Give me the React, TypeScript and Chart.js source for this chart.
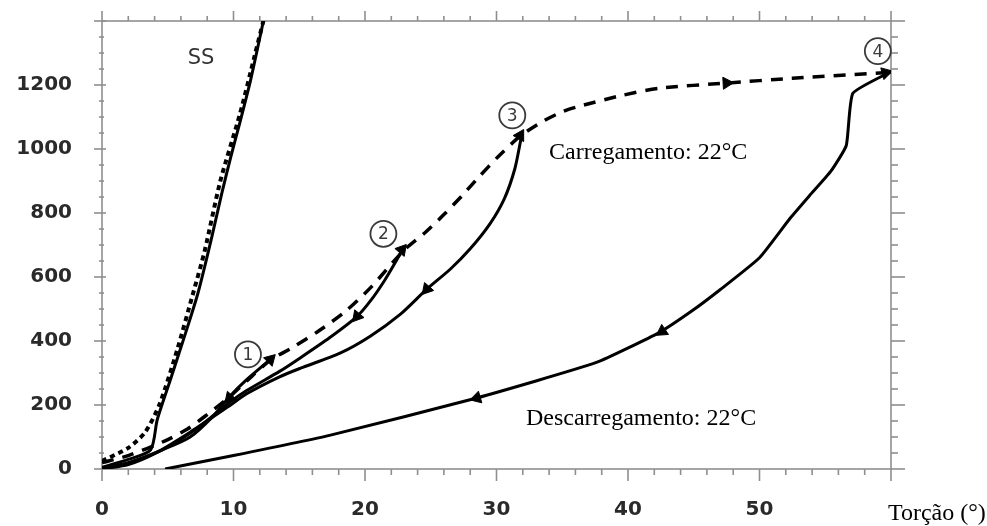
import React, { useEffect, useRef } from "react";
import { Chart, registerables } from "chart.js";

Chart.register(...registerables);

// ---- data (torsion angle in degrees, torque) ----
const ssSolidX = [0, 2, 3.7, 4.2, 5.2, 6.2, 7.3, 8.3, 9.1, 9.8, 10.5, 11.3, 12.3];
const ssSolidY = [5, 30, 60, 154, 279, 405, 550, 716, 860, 976, 1085, 1215, 1405];

const ssDashX = [0, 2, 3.3, 4.4, 5.7, 6.9, 7.8, 9.0, 10.5, 11.6, 12.3];
const ssDashY = [25, 66, 116, 205, 370, 545, 680, 900, 1111, 1290, 1405];

const loadX = [0, 2, 4.8, 6.5, 8, 9.6, 11, 12.8, 14.5, 16.5, 18.5, 20.5, 22.9, 24.6, 26, 27.4, 28.6, 30.1, 31.8, 33.5, 35.1, 36.6, 39.6, 42.4, 47.5, 52.5, 60];
const loadY = [20, 42, 88, 125, 170, 222, 275, 340, 380, 432, 492, 570, 681, 740, 795, 855, 910, 975, 1040, 1086, 1118, 1137, 1168, 1190, 1206, 1221, 1240];

const unload1X = [12.8, 11, 9.7, 8.4, 6.7, 4.6, 2, 0];
const unload1Y = [342, 279, 226, 163, 100, 60, 20, 3];

const unload2X = [22.9, 22.3, 21.5, 20.5, 19.4, 17.3, 15.1, 13.5, 11, 9.6, 7, 4.5, 2, 0];
const unload2Y = [690, 645, 590, 530, 477, 410, 348, 305, 245, 205, 120, 58, 18, 3];

const unload3X = [31.9, 31.4, 30.6, 29.5, 28.0, 26.5, 24.7, 22.7, 20.4, 18.1, 15.1, 13.5, 11, 9.6, 6.7, 4, 2, 0];
const unload3Y = [1040, 939, 845, 766, 688, 625, 562, 484, 415, 362, 315, 288, 235, 195, 115, 48, 14, 0];

const unload4X = [60, 57.1, 56.6, 55.4, 53.8, 52.3, 50, 47, 44.9, 42.4, 37.6, 28.5, 17.3, 10, 4.8];
const unload4Y = [1242, 1174, 1011, 929, 854, 782, 660, 560, 495, 427, 333, 222, 105, 42, 0];

// arrowheads along the curves
const arrowX = [12.8, 22.8, 31.8, 59.6, 47.5, 9.7, 19.4, 24.7, 42.6, 28.5];
const arrowY = [342, 685, 1042, 1238, 1206, 222, 477, 562, 430, 222];
const arrowAngle = [45, 40, 30, 75, 87, 222, 220, 221, 236, 254];

// tick labels
const xTickLabels = ["0", "10", "20", "30", "40", "50"];
const yTickLabels = ["0", "200", "400", "600", "800", "1000", "1200"];

// circled markers
const circleText = ["1", "2", "3", "4"];
const circleX = [11.1, 21.4, 31.2, 59.0];
const circleY = [358, 735, 1105, 1306];

// text annotations
const noteText = ["SS", "Carregamento: 22°C", "Descarregamento: 22°C", "Torção (°)"];
const noteX = [7.53, 34.0, 32.24, 59.77];
const noteY = [1284, 970, 138, -160];

const pts = (xs: number[], ys: number[]) => xs.map((x, i) => ({ x, y: ys[i] }));

const framePlugin = {
  id: "frame",
  beforeDatasetsDraw(chart: any) {
    const { ctx, chartArea: a, scales } = chart;
    const x = scales.x;
    const y = scales.y;
    ctx.save();
    ctx.strokeStyle = "#8f8f8f";
    ctx.lineWidth = 1.6;
    ctx.strokeRect(a.left, a.top, a.right - a.left, a.bottom - a.top);
    const seg = (x1: number, y1: number, x2: number, y2: number) => {
      ctx.beginPath();
      ctx.moveTo(x1, y1);
      ctx.lineTo(x2, y2);
      ctx.stroke();
    };
    for (let v = 0; v <= 60; v += 2) {
      const px = x.getPixelForValue(v);
      const major = v % 10 === 0;
      seg(px, a.bottom, px, a.bottom + (major ? 12 : 6));
      seg(px, a.top, px, a.top - (major ? 10 : 5));
    }
    for (let v = 0; v <= 1400; v += 50) {
      const py = y.getPixelForValue(v);
      const major = v % 200 === 0;
      seg(a.left - (major ? 8 : 3), py, a.left + (major ? 4 : 2), py);
      seg(a.right, py, a.right + (major ? 14 : 7), py);
    }
    ctx.restore();
  },
};

const notePlugin = {
  id: "notes",
  afterDatasetsDraw(chart: any) {
    const { ctx, scales } = chart;
    const x = scales.x;
    const y = scales.y;
    ctx.save();
    for (let i = 0; i < circleText.length; i++) {
      const cx = x.getPixelForValue(circleX[i]);
      const cy = y.getPixelForValue(circleY[i]);
      ctx.beginPath();
      ctx.arc(cx, cy, 13, 0, Math.PI * 2);
      ctx.strokeStyle = "#3a3a3a";
      ctx.lineWidth = 1.8;
      ctx.stroke();
      ctx.fillStyle = "#3a3a3a";
      ctx.font = '17px "DejaVu Sans"';
      ctx.textAlign = "center";
      ctx.textBaseline = "middle";
      ctx.fillText(circleText[i], cx, cy + 1);
    }
    for (let i = 0; i < noteText.length; i++) {
      const px = x.getPixelForValue(noteX[i]);
      const py = y.getPixelForValue(noteY[i]);
      if (i === 0) {
        ctx.font = '21px "DejaVu Sans"';
        ctx.fillStyle = "#333";
        ctx.textAlign = "center";
        ctx.textBaseline = "middle";
      } else {
        ctx.font = '24px "Liberation Serif"';
        ctx.fillStyle = "#000";
        ctx.textAlign = "left";
        ctx.textBaseline = "alphabetic";
      }
      ctx.fillText(noteText[i], px, py);
    }
    ctx.restore();
  },
};

export default function App() {
  const ref = useRef<HTMLCanvasElement>(null);
  useEffect(() => {
    if (!ref.current) return;
    const solid = (data: any) => ({
      data,
      showLine: true,
      borderColor: "#000",
      borderWidth: 3,
      pointRadius: 0,
      tension: 0.25,
      fill: false,
    });
    const chart = new Chart(ref.current, {
      type: "scatter",
      data: {
        datasets: [
          { ...solid(pts(ssDashX, ssDashY)), borderDash: [5, 4], borderWidth: 4 },
          solid(pts(ssSolidX, ssSolidY)),
          { ...solid(pts(loadX, loadY)), borderDash: [12, 9], borderWidth: 3.5 },
          solid(pts(unload1X, unload1Y)),
          solid(pts(unload2X, unload2Y)),
          solid(pts(unload3X, unload3Y)),
          { ...solid(pts(unload4X, unload4Y)), tension: 0.15 },
          {
            data: pts(arrowX, arrowY),
            showLine: false,
            pointStyle: "triangle",
            pointRadius: 7,
            pointRotation: arrowAngle,
            backgroundColor: "#000",
            borderColor: "#000",
            borderWidth: 1,
          } as any,
        ],
      },
      options: {
        responsive: false,
        animation: false,
        events: [],
        layout: { padding: { top: 21, right: 96, left: 0, bottom: 0 } },
        plugins: { legend: { display: false }, tooltip: { enabled: false } },
        scales: {
          x: {
            type: "linear",
            min: 0,
            max: 60,
            grid: { display: false, drawTicks: false },
            border: { display: false },
            ticks: {
              stepSize: 10,
              padding: 29,
              color: "#2a2a2a",
              font: { family: "DejaVu Sans", size: 20, weight: "bold" },
              callback: (v: any) => xTickLabels[Math.round(Number(v) / 10)] ?? "",
            },
            afterFit: (s: any) => {
              s.height = 57;
              s.paddingLeft = 0;
              s.paddingRight = 0;
            },
          },
          y: {
            type: "linear",
            min: 0,
            max: 1400,
            grid: { display: false, drawTicks: false },
            border: { display: false },
            ticks: {
              stepSize: 200,
              padding: 30,
              color: "#2a2a2a",
              font: { family: "DejaVu Sans", size: 20, weight: "bold" },
              callback: (v: any) => yTickLabels[Math.round(Number(v) / 200)] ?? "",
            },
            afterFit: (s: any) => {
              s.width = 102;
              s.paddingTop = 0;
              s.paddingBottom = 0;
            },
          },
        },
      },
      plugins: [framePlugin, notePlugin],
    } as any);
    return () => chart.destroy();
  }, []);
  return (
    <div style={{ position: "absolute", left: 0, top: 0, width: 987, height: 526, background: "#fff" }}>
      <canvas ref={ref} width={987} height={526} style={{ display: "block" }} />
    </div>
  );
}
